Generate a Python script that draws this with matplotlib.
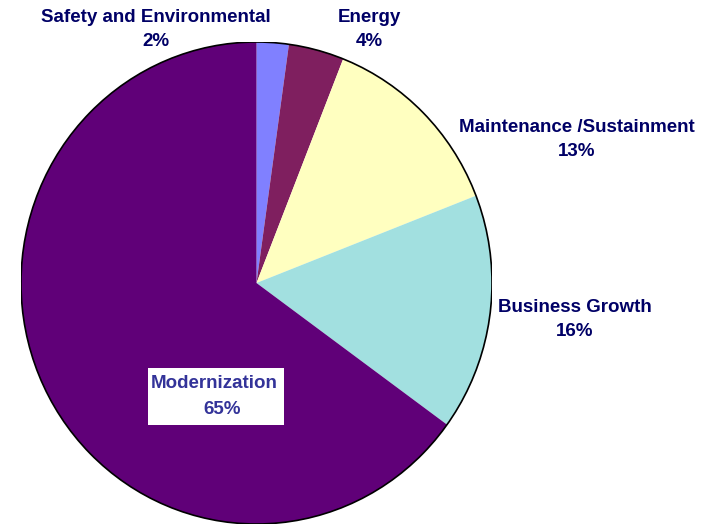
import matplotlib.pyplot as plt
from matplotlib.patches import Ellipse, Rectangle

plt.rcParams['font.family'] = ['Liberation Sans', 'DejaVu Sans']

# slice data, clockwise from 12 o'clock
categories = ['Safety and Environmental', 'Energy', 'Maintenance /Sustainment',
              'Business Growth', 'Modernization']
shares = [2.2, 3.8, 13.1, 15.9, 65.0]
pct_labels = ['2%', '4%', '13%', '16%', '65%']
colors = ['#8080FF', '#7F1F5F', '#FFFFC0', '#A2E0E0', '#600078']

W, H = 715, 526
fig = plt.figure(figsize=(W / 100, H / 100), dpi=100)

# pie box in pixels: x 21..492, y 42..524 (slightly taller than wide)
left, right, top, bottom = 21, 492, 42, 524
ax = fig.add_axes([left / W, (H - bottom) / H, (right - left) / W, (bottom - top) / H])
ax.pie(shares, colors=colors, startangle=90, counterclock=False,
       radius=1, wedgeprops=dict(linewidth=0))
ax.add_patch(Ellipse((0, 0), 2, 2, fill=False, edgecolor='black', linewidth=1.2))
ax.set_aspect('auto')
ax.set_xlim(-1, 1)
ax.set_ylim(-1, 1)
ax.axis('off')

# text overlay in pixel coords
tx = fig.add_axes([0, 0, 1, 1], facecolor='none')
tx.set_xlim(0, W)
tx.set_ylim(H, 0)
tx.axis('off')

navy = '#000066'
fs = 13.5
label_pos = [(156, 18), (369, 18), (577, 127), (575, 308)]
for name, pct, (x, y) in zip(categories[:4], pct_labels[:4], label_pos):
    tx.text(x, y, name, ha='center', va='center', fontsize=fs,
            fontweight='bold', color=navy)
    tx.text(x, y + 24, pct, ha='center', va='center', fontsize=fs,
            fontweight='bold', color=navy)

# Modernization label in a white box
tx.add_patch(Rectangle((148, 368), 136, 57, facecolor='white', edgecolor='none'))
tx.text(151, 384, categories[4], ha='left', va='center', fontsize=fs,
        fontweight='bold', color='#333399')
tx.text(222, 409, pct_labels[4], ha='center', va='center', fontsize=fs,
        fontweight='bold', color='#333399')

fig.savefig('out.png', dpi=100)
